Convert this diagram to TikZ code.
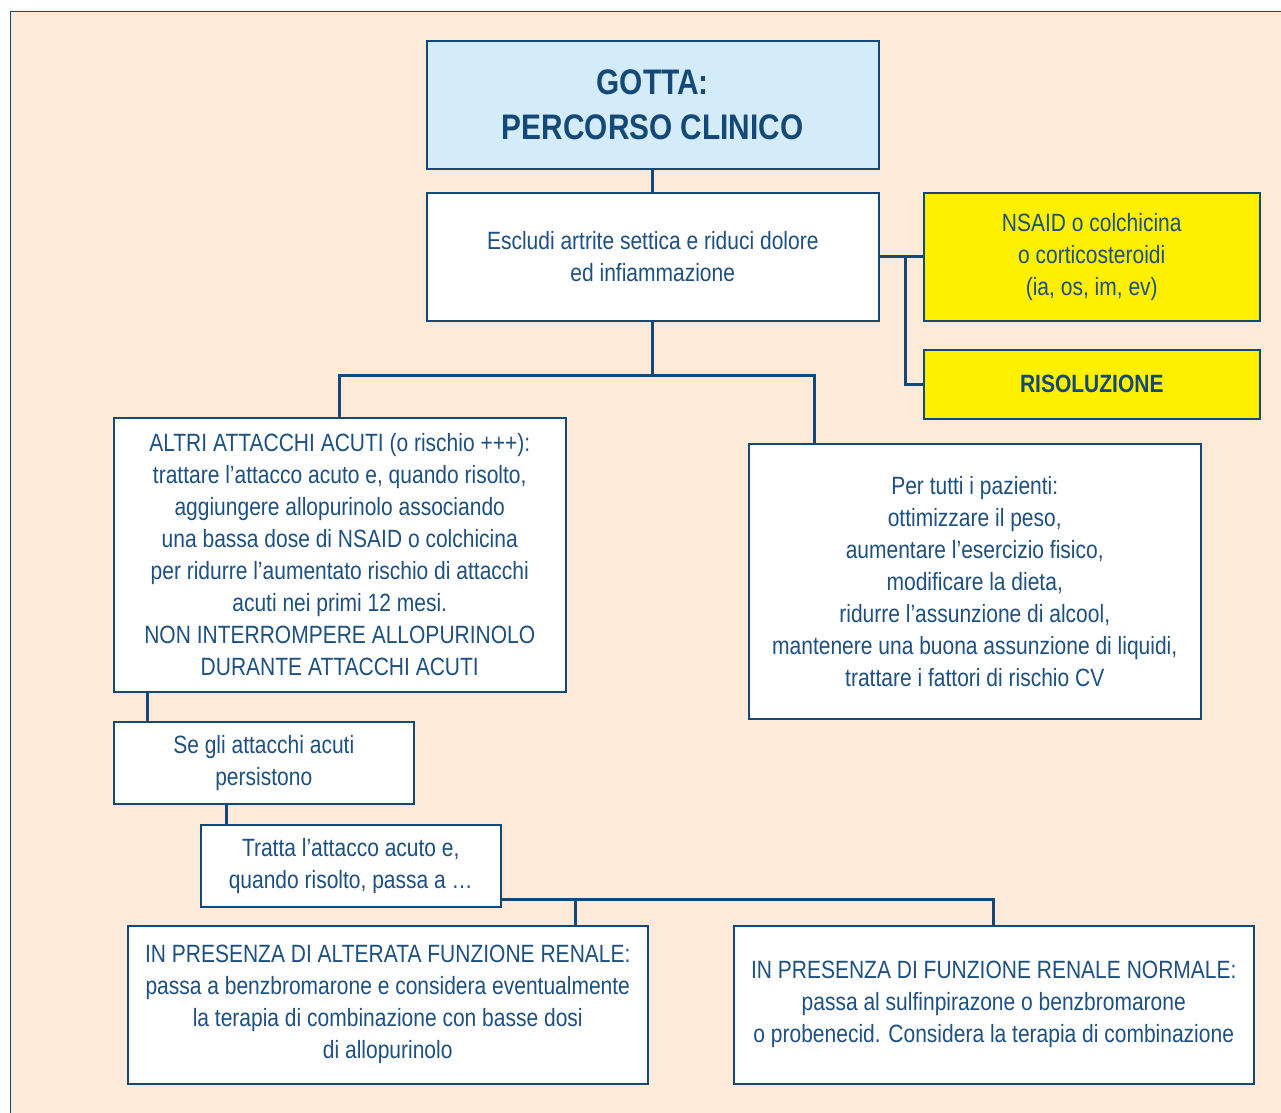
\documentclass[tikz,border=0pt]{standalone}
\usepackage{fontspec}
\setmainfont{Liberation Sans}[FakeStretch=0.84]
\usetikzlibrary{calc}
\definecolor{panelbg}{RGB}{253,234,217}
\definecolor{navy}{RGB}{20,72,118}
\definecolor{inktext}{RGB}{30,80,128}
\definecolor{titlefill}{RGB}{212,236,250}
\definecolor{alertyellow}{RGB}{255,240,0}
\tikzset{
  box/.style={draw=navy, line width=1.5pt, fill=white, text=inktext,
    align=center, inner sep=0pt, anchor=north west,
    font=\fontsize{25}{32}\selectfont},
  titlebox/.style={box, fill=titlefill, text=navy,
    font=\fontsize{35.5}{45}\selectfont\bfseries},
  yellowbox/.style={box, fill=alertyellow},
  link/.style={draw=navy, line width=3pt},
}
\begin{document}
\begin{tikzpicture}[x=1pt, y=-1pt]
\useasboundingbox (0,0) rectangle (1281,1112);
\begin{scope}
  \clip (0,0) rectangle (1281,1112);
  \fill[white] (0,0) rectangle (1281,1112);
  \draw[navy, line width=1.5pt, fill=panelbg] (10.5,11.5) rectangle (1300,1130);
\end{scope}

% header and first step
\node[titlebox, minimum width=452pt, minimum height=128pt] (title) at (426,40)
  {GOTTA:\\PERCORSO CLINICO};
\node[box, minimum width=452pt, minimum height=128pt] (escl) at (426,192)
  {Escludi artrite settica e riduci dolore\\ed infiammazione};
\node[yellowbox, minimum width=336pt, minimum height=128pt] (nsaid) at (923,192)
  {NSAID o colchicina\\o corticosteroidi\\(ia, os, im, ev)};
\node[yellowbox, minimum width=336pt, minimum height=69pt, text=navy,
  font=\fontsize{25}{32}\selectfont\bfseries] (ris) at (923,349)
  {RISOLUZIONE};

% two branches
\node[box, minimum width=452pt, minimum height=274pt] (altri) at (113,417)
  {ALTRI ATTACCHI ACUTI (o rischio +++):\\
   trattare l’attacco acuto e, quando risolto,\\
   aggiungere allopurinolo associando\\
   una bassa dose di NSAID o colchicina\\
   per ridurre l’aumentato rischio di attacchi\\
   acuti nei primi 12 mesi.\\
   NON INTERROMPERE ALLOPURINOLO\\
   DURANTE ATTACCHI ACUTI};
\node[box, minimum width=452pt, minimum height=275pt] (tutti) at (748,443)
  {Per tutti i pazienti:\\
   ottimizzare il peso,\\
   aumentare l’esercizio fisico,\\
   modificare la dieta,\\
   ridurre l’assunzione di alcool,\\
   mantenere una buona assunzione di liquidi,\\
   trattare i fattori di rischio CV};

% persistence path
\node[box, minimum width=300pt, minimum height=82pt] (persist) at (113,721)
  {Se gli attacchi acuti\\persistono};
\node[box, minimum width=300pt, minimum height=82pt] (tratta) at (200,824)
  {Tratta l’attacco acuto e,\\quando risolto, passa a \dots};
\node[box, minimum width=520pt, minimum height=158pt] (alter) at (127,925)
  {IN PRESENZA DI ALTERATA FUNZIONE RENALE:\\
   passa a benzbromarone e considera eventualmente\\
   la terapia di combinazione con basse dosi\\
   di allopurinolo};
\node[box, minimum width=520pt, minimum height=158pt] (normale) at (733,925)
  {IN PRESENZA DI FUNZIONE RENALE NORMALE:\\
   passa al sulfinpirazone o benzbromarone\\
   o probenecid. Considera la terapia di combinazione};

% junction points
\coordinate (jside) at ($(escl.east)+(26,0)$);
\coordinate (jsplit) at ($(escl.south)+(0,54)$);
\coordinate (tuttitop) at ($(tutti.north west)+(66,0)$);
\coordinate (altriout) at ($(altri.south west)+(34,0)$);
\coordinate (persistout) at ($(persist.south west)+(113,0)$);
\coordinate (trattaout) at ($(tratta.south east)+(0,-8)$);
\coordinate (jrenal) at ($(trattaout)+(74,0)$);

% connectors
\draw[link] (title.south) -- (escl.north);
\draw[link] (escl.east) -- (nsaid.west);
\draw[link] (jside) |- (ris.west);
\draw[link] (escl.south) -- (jsplit) -| (altri.north);
\draw[link] (jsplit) -| (tuttitop);
\draw[link] (altriout) -- (altriout |- persist.north);
\draw[link] (persistout) -- (persistout |- tratta.north);
\draw[link] (trattaout) -| (normale.north);
\draw[link] (jrenal) -- (jrenal |- alter.north);
\end{tikzpicture}
\end{document}
